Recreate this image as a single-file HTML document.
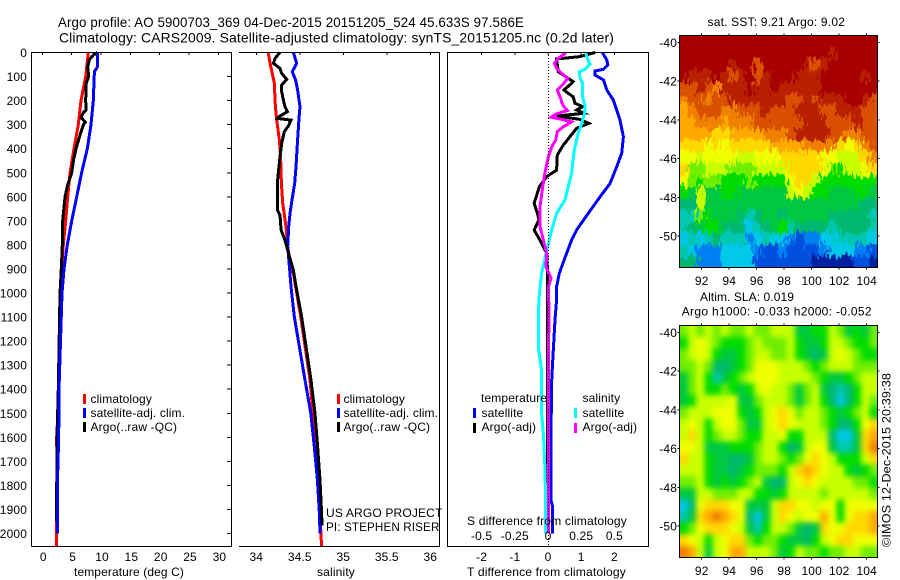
<!DOCTYPE html>
<html lang="en">
<head>
<meta charset="utf-8">
<title>Argo profile</title>
<style>
html,body{margin:0;padding:0;background:#fff;}
svg{display:block;font-family:"Liberation Sans",sans-serif;font-size:12px;fill:#000;letter-spacing:0.13px;}
.ax{stroke:#000;stroke-width:1;fill:none;shape-rendering:crispEdges;}
.pl{fill:none;stroke-width:3;stroke-linejoin:miter;shape-rendering:crispEdges;}
</style>
</head>
<body>
<svg id="chart" xmlns="http://www.w3.org/2000/svg" width="900" height="580" viewBox="0 0 900 580">
  <defs>
    <filter id="jag" filterUnits="userSpaceOnUse" x="660" y="15" width="240" height="275" color-interpolation-filters="sRGB">
      <feTurbulence type="fractalNoise" baseFrequency="0.33 0.11" numOctaves="2" seed="4" result="n"/>
      <feDisplacementMap in="SourceGraphic" in2="n" scale="18" xChannelSelector="R" yChannelSelector="G"/>
    </filter>
    <filter id="soft" filterUnits="userSpaceOnUse" x="660" y="305" width="240" height="275" color-interpolation-filters="sRGB">
      <feGaussianBlur stdDeviation="3"/>
    </filter>
    <clipPath id="clipA"><rect x="679.5" y="35.5" width="198" height="232"/></clipPath>
    <clipPath id="clipB"><rect x="679.5" y="325.5" width="198" height="232"/></clipPath>
  </defs>

  <text x="58" y="27" font-size="14" textLength="466" lengthAdjust="spacingAndGlyphs">Argo profile: AO 5900703_369 04-Dec-2015 20151205_524 45.633S 97.586E</text>
  <text x="59" y="42.5" font-size="14" textLength="555" lengthAdjust="spacingAndGlyphs">Climatology: CARS2009. Satellite-adjusted climatology: synTS_20151205.nc (0.2d later)</text>

  <g id="series"></g>

  <g>
    <path class="ax" d="M31.5 546.5V52.5H231.5V546.5H31.5"/>
  </g>
  <g>
    <path class="ax" d="M239 52.5H439.5V546.5H239"/>
  </g>
  <g>
    <path class="ax" d="M447.5 52.5H648.5V546.5H447.5Z"/>
  </g>
  <line x1="548.5" y1="52" x2="548.5" y2="546" stroke="#000" stroke-width="1" stroke-dasharray="1 2" shape-rendering="crispEdges"/>

  <g id="ticks"></g>

  <text x="74" y="576" textLength="110" lengthAdjust="spacingAndGlyphs">temperature (deg C)</text>
  <text x="317" y="576" textLength="38" lengthAdjust="spacingAndGlyphs">salinity</text>
  <text x="467" y="525" textLength="160" lengthAdjust="spacingAndGlyphs">S difference from climatology</text>
  <text x="467" y="576" textLength="159" lengthAdjust="spacingAndGlyphs">T difference from climatology</text>

  <g>
    <rect x="83" y="394" width="3" height="10" fill="#ff0000"/>
    <rect x="83" y="408" width="3" height="10" fill="#0000ff"/>
    <rect x="83" y="422" width="3" height="10" fill="#000"/>
    <text x="90.5" y="403">climatology</text>
    <text x="90.5" y="417">satellite-adj. clim.</text>
    <text x="90.5" y="431">Argo(..raw -QC)</text>
  </g>
  <g>
    <rect x="337" y="394" width="3" height="10" fill="#ff0000"/>
    <rect x="337" y="408" width="3" height="10" fill="#0000ff"/>
    <rect x="337" y="422" width="3" height="10" fill="#000"/>
    <text x="343.5" y="403">climatology</text>
    <text x="343.5" y="417">satellite-adj. clim.</text>
    <text x="343.5" y="431">Argo(..raw -QC)</text>
  </g>
  <text x="326" y="517" textLength="116.5" lengthAdjust="spacingAndGlyphs">US ARGO PROJECT</text>
  <text x="326" y="531" textLength="113.5" lengthAdjust="spacingAndGlyphs">PI: STEPHEN RISER</text>
  <g>
    <text x="481" y="402">temperature</text>
    <rect x="473" y="408" width="3" height="10" fill="#0000ff"/>
    <rect x="473" y="423" width="3" height="10" fill="#000"/>
    <text x="481.5" y="417">satellite</text>
    <text x="481.5" y="431">Argo(-adj)</text>
    <text x="582.5" y="402">salinity</text>
    <rect x="574" y="408" width="3" height="10" fill="#00ffff"/>
    <rect x="574" y="423" width="3" height="10" fill="#ff00ff"/>
    <text x="582.5" y="417">satellite</text>
    <text x="582.5" y="431">Argo(-adj)</text>
  </g>

  <text x="707.5" y="26" textLength="137.5" lengthAdjust="spacing">sat. SST: 9.21 Argo: 9.02</text>
  <text x="700" y="301" textLength="94" lengthAdjust="spacing">Altim. SLA: 0.019</text>
  <text x="681.7" y="315.5" textLength="190" lengthAdjust="spacing">Argo h1000: -0.033 h2000: -0.052</text>

  <g clip-path="url(#clipA)"><g id="sstCells" filter="url(#jag)" shape-rendering="crispEdges"></g></g>
  <g clip-path="url(#clipB)"><g id="slaCells" filter="url(#soft)" shape-rendering="crispEdges"></g></g>
  <rect class="ax" x="679.5" y="35.5" width="198" height="232"/>
  <rect class="ax" x="679.5" y="325.5" width="198" height="232"/>
  <g id="mapTicks"></g>

  <text transform="translate(890.5 547) rotate(-90)" textLength="174" lengthAdjust="spacingAndGlyphs">©IMOS 12-Dec-2015 20:39:38</text>
</svg>

<script>
// ---------- tick labels ----------
const depthTicks = [0,100,200,300,400,500,600,700,800,900,1000,1100,1200,1300,1400,1500,1600,1700,1800,1900,2000];
const tempTicks = [0,5,10,15,20,25,30];
const salTicks = [34,34.5,35,35.5,36];
const dTempTicks = [-2,-1,0,1,2];
const dSalTicks = [-0.5,-0.25,0,0.25,0.5];
const lonTicks = [92,94,96,98,100,102,104];
const latTicks = [-40,-42,-44,-46,-48,-50];

// ---------- temperature panel ----------
const climTempDepth = [0,100,200,300,400,500,600,700,800,900,1000,1400,1600,1800,2000,2054];
const climTemp = [7.84,7.39,6.6,6.14,5.4,4.72,4.32,3.98,3.58,3.3,3.13,2.85,2.45,2.5,2.4,2.4];
const satTempDepth = [0,60,80,200,300,400,500,600,700,800,900,1000,1400,1600,1800,2000];
const satTemp = [9.43,9.4,8.87,8.69,8.3,7.67,6.7,5.86,5.0,4.26,3.7,3.36,2.85,2.8,2.56,2.56];
const argoTempDepth = [0,10,30,60,100,130,200,240,250,270,290,300,330,400,450,500,550,600,700,800,900,1000,1400,1600,1750,1850,1950];
const argoTemp = [9.4,8.7,8.0,7.73,7.9,7.44,7.39,7.44,7.0,6.6,7.33,7.0,6.6,5.74,5.3,5.0,4.32,3.87,3.47,3.4,3.24,3.02,2.73,2.5,2.48,2.42,2.42];

// ---------- salinity panel ----------
const climSalDepth = [0,45,87,128,225,280,364,447,544,627,724,807,863,918,1001,1098,1362,1700,2054];
const climSal = [34.138,34.158,34.184,34.207,34.219,34.234,34.265,34.28,34.288,34.303,34.341,34.361,34.387,34.426,34.464,34.51,34.617,34.7,34.751];
const satSalDepth = [0,45,80,114,156,225,274,364,475,544,613,669,724,807,890,974,1098,1362,1500,1638,1777,1916,2000];
const satSal = [34.426,34.464,34.414,34.452,34.475,34.502,34.491,34.475,34.456,34.441,34.41,34.387,34.372,34.361,34.38,34.399,34.437,34.56,34.626,34.667,34.702,34.725,34.732];
const argoSalDepth = [0,24,45,66,87,112,135,163,198,225,246,264,274,281,306,329,378,433,502,544,655,676,738,780,835,904,974,1098,1362,1500,1638,1777,1916,1966];
const argoSal = [34.272,34.215,34.196,34.272,34.292,34.349,34.292,34.292,34.311,34.33,34.357,34.272,34.242,34.399,34.368,34.322,34.292,34.272,34.253,34.242,34.242,34.272,34.285,34.33,34.37,34.425,34.457,34.521,34.629,34.675,34.705,34.732,34.751,34.755];

// ---------- difference panel ----------
const dTempSatDepth = [0,31,52,70,77,94,114,156,198,239,281,350,419,475,544,600,669,738,780,835,918,974,1029,1112,1237,1362,1584,1861,1888,2000];
const dTempSat = [1.64,1.77,1.8,1.67,1.42,1.42,1.67,1.77,1.97,2.07,2.17,2.27,2.22,2.07,1.87,1.57,1.21,0.86,0.71,0.56,0.34,0.26,0.26,0.21,0.16,0.11,0.09,0.09,0.14,0.13];
const dTempArgoDepth = [0,17,27,80,94,121,128,156,170,184,211,225,239,253,264,278,295,315,350,385,426,489,516,558,627,669,696,738,780,835,891,1154,1600,1950];
const dTempArgo = [1.42,0.96,0.26,0.31,0.46,0.76,0.71,0.48,0.61,0.76,0.81,1.04,0.86,1.08,0.26,0.96,1.23,0.86,0.66,0.46,0.28,0.26,-0.04,-0.26,-0.42,-0.32,-0.27,-0.42,-0.24,-0.04,-0.02,-0.01,-0.02,0.0];
const dSalSatDepth = [0,24,48,70,80,107,128,184,225,246,295,336,405,502,558,613,669,738,835,918,1001,1098,1237,1320,1500,1584,1723,1861,2000];
const dSalSat = [0.284,0.296,0.316,0.279,0.236,0.241,0.261,0.261,0.279,0.279,0.254,0.228,0.198,0.178,0.153,0.128,0.065,0.028,-0.015,-0.048,-0.065,-0.073,-0.07,-0.048,-0.048,-0.035,-0.023,-0.018,-0.018];
const dSalArgoDepth = [0,24,45,66,87,107,128,156,191,218,241,255,269,278,288,309,329,364,392,433,502,558,641,724,780,835,891,939,974,1098,1237,1584,2000];
const dSalArgo = [0.136,0.078,0.048,0.065,0.103,0.148,0.12,0.07,0.095,0.11,0.146,0.065,0.023,0.103,0.178,0.115,0.07,0.058,0.028,0.003,-0.023,-0.04,-0.06,-0.06,-0.035,-0.01,-0.015,0.023,0.003,0.008,0.003,0.003,0.003];

// ---------- map colour levels ----------
const mapPalette = ['#0020a0','#0050e0','#0080f0','#00c8e8','#00c8b0','#00b870','#00c840','#00dc00','#70ee00','#c8ff00','#f0ff00','#ffd800','#ffa800','#f08000','#d85000','#b82000','#a80000'];
const sstLevels = [
[16,16,16,16,16,16,16,16,16,16,16,16,16,16,16,16,16,16,16,16,16,16,16,16],
[16,16,16,16,16,16,16,16,16,16,16,16,16,16,16,16,16,16,15,16,16,16,16,16],
[16,16,16,16,16,16,15,16,16,14,16,16,16,16,16,15,14,15,16,16,16,16,16,16],
[16,15,15,15,16,15,14,15,16,14,15,16,16,16,15,15,15,16,16,16,16,16,15,16],
[14,14,15,14,13,15,15,15,16,15,15,16,15,15,15,15,15,16,16,16,16,16,16,16],
[13,14,14,13,14,14,15,15,15,15,15,15,15,14,14,15,14,15,15,15,16,16,15,14],
[12,13,14,14,14,13,13,14,14,14,15,14,14,14,15,15,15,14,14,15,15,15,14,14],
[12,12,13,13,13,12,13,13,13,14,14,14,14,14,14,15,15,15,14,14,14,15,14,14],
[12,12,12,12,11,11,12,12,12,12,13,13,13,14,15,15,15,15,14,14,13,13,14,14],
[11,11,11,10,11,10,11,11,11,11,11,12,12,12,12,13,13,13,13,11,10,11,13,14],
[10,10,9,10,10,10,10,9,9,10,10,10,11,11,11,11,11,10,10,9,9,9,11,13],
[11,8,8,9,9,9,8,8,8,9,9,9,9,11,11,11,11,10,8,7,9,9,10,11],
[10,8,7,8,8,7,7,7,8,7,7,7,7,10,11,11,9,7,7,7,7,7,7,7],
[7,6,9,6,6,7,7,6,6,6,6,6,6,9,10,9,7,7,6,6,6,7,7,6],
[5,5,9,6,6,6,6,6,6,6,6,6,6,6,6,6,6,6,6,6,6,6,5,5],
[4,4,8,7,6,6,6,5,4,5,6,6,5,6,6,6,6,6,5,5,5,5,5,4],
[4,5,6,7,7,5,5,5,3,4,5,6,7,4,5,5,5,5,4,5,5,5,5,4],
[3,4,3,4,5,4,4,4,2,3,4,3,3,2,1,2,2,3,3,4,4,4,4,3],
[4,3,2,2,2,3,3,3,3,2,1,1,2,1,1,1,1,2,3,3,3,2,2,1],
[5,5,2,2,2,3,3,3,3,1,1,1,1,1,1,1,0,0,0,0,0,1,1,0]
];
const slaLevels = [
[8,9,8,9,8,9,8,8,9,8,8,9,9,9,6,6,7,7,9,8,6,7,6,8],
[7,9,10,9,8,7,7,7,8,9,8,8,8,9,7,6,6,7,9,9,8,7,7,8],
[8,9,10,9,7,6,6,7,8,9,9,8,8,9,7,6,5,6,9,10,9,8,7,7],
[8,8,9,8,5,5,6,7,8,10,10,10,9,9,9,8,7,8,9,9,9,8,8,8],
[6,8,9,7,4,6,7,8,9,10,10,10,9,9,9,9,8,7,6,6,7,8,9,9],
[6,8,9,7,7,8,7,6,7,9,10,9,9,8,6,8,9,6,5,4,5,7,9,9],
[6,7,9,9,9,9,10,6,6,8,9,9,9,8,6,8,9,7,5,3,5,7,9,8],
[8,9,9,9,10,10,10,7,6,7,9,10,11,10,8,9,9,8,7,6,7,8,9,7],
[9,10,9,7,9,10,10,8,6,6,9,10,11,10,9,9,9,8,7,5,5,7,10,11],
[9,11,9,7,8,9,9,8,7,7,9,9,10,7,7,9,9,9,5,3,3,6,11,12],
[10,10,9,6,6,6,7,7,7,8,9,9,7,5,6,9,10,10,6,4,4,6,11,13],
[11,9,9,7,6,6,5,5,6,8,9,9,8,7,8,10,11,10,9,7,7,7,9,11],
[9,9,9,7,6,6,5,6,7,8,8,8,7,9,11,12,11,10,9,9,7,6,7,8],
[8,8,9,7,6,7,6,7,8,9,6,5,5,9,10,11,10,9,9,9,9,8,8,7],
[6,6,9,9,8,8,8,9,9,7,7,6,7,9,9,9,9,8,9,9,9,9,9,8],
[3,5,10,11,11,11,10,10,6,6,6,9,11,11,10,10,9,10,10,7,10,10,10,10],
[4,6,11,12,13,12,11,10,5,3,6,9,11,10,9,10,10,12,10,7,10,11,11,12],
[7,8,10,11,11,11,10,9,6,4,7,9,9,8,6,5,6,11,10,10,11,11,11,12],
[11,10,9,7,9,10,11,11,8,7,8,8,7,6,6,5,7,9,10,11,11,10,10,10],
[13,12,9,6,9,10,12,12,9,9,9,8,6,7,9,8,8,7,8,8,9,9,8,8]
];

// ---------- axis functions ----------
const NS = 'http://www.w3.org/2000/svg';
const yScale = d => 52.5 + 0.2405 * d;
const tempX = t => 42.3 + 5.87 * t;
const salX = s => 256.3 + 87 * (s - 34);
const dTempX = v => 548 + 33.2 * v;
const dSalX = v => 548 + 132.8 * v;
const lonX = lon => 701.7 + 13.75 * (lon - 92);
const latY = (lat, off) => 42.3 + 19.37 * (-40 - lat) + off;

function make(tag, parent) {
  const el = document.createElementNS(NS, tag);
  parent.appendChild(el);
  return el;
}
function seg(parent, x1, y1, x2, y2) {
  const l = make('line', parent);
  l.setAttribute('x1', x1); l.setAttribute('y1', y1);
  l.setAttribute('x2', x2); l.setAttribute('y2', y2);
  l.setAttribute('class', 'ax');
  return l;
}
function label(parent, x, y, txt, anchor) {
  const t = make('text', parent);
  t.setAttribute('x', x); t.setAttribute('y', y);
  t.setAttribute('text-anchor', anchor);
  t.textContent = txt;
  return t;
}
function profile(depths, values, xFn, colour) {
  const p = make('polyline', document.getElementById('series'));
  p.setAttribute('class', 'pl');
  p.setAttribute('stroke', colour);
  p.setAttribute('points', depths.map((d, i) => xFn(values[i]).toFixed(1) + ',' + yScale(d).toFixed(1)).join(' '));
  return p;
}

// ---------- series ----------
const s1 = profile(climTempDepth, climTemp, tempX, '#ff0000');


const s2 = profile(argoTempDepth, argoTemp, tempX, '#000000');


const s3 = profile(satTempDepth, satTemp, tempX, '#0000ff');


const s4 = profile(climSalDepth, climSal, salX, '#ff0000');


const s5 = profile(satSalDepth, satSal, salX, '#0000ff');


const s6 = profile(argoSalDepth, argoSal, salX, '#000000');


const s7 = profile(dTempSatDepth, dTempSat, dTempX, '#0000ff');


const s8 = profile(dTempArgoDepth, dTempArgo, dTempX, '#000000');


const s9 = profile(dSalSatDepth, dSalSat, dSalX, '#00ffff');


const s10 = profile(dSalArgoDepth, dSalArgo, dSalX, '#ff00ff');



// ---------- ticks ----------
const tickG = document.getElementById('ticks');
depthTicks.forEach(d => {
  const mark = seg(tickG, 227, yScale(d), 231, yScale(d));
  
  
  const txt = label(tickG, 27, yScale(d) + 4.5, String(d), 'end');
  
  
});
tempTicks.forEach(v => {
  const mark = seg(tickG, tempX(v), 52, tempX(v), 55);
  
  
  const txt = label(tickG, tempX(v) + 1, 561, String(v), 'middle');
  
  
});
salTicks.forEach(v => {
  const mark = seg(tickG, salX(v), 52, salX(v), 55);
  
  
  const txt = label(tickG, salX(v), 561, String(v), 'middle');
  
  
});
dTempTicks.forEach(v => {
  const mark = seg(tickG, dTempX(v), 52, dTempX(v), 55);
  
  
  const txt = label(tickG, dTempX(v), 561, String(v), 'middle');
  
  
});
dSalTicks.forEach(v => {
  const txt = label(tickG, dSalX(v), 540, String(v), 'middle');
  
  
});

// ---------- maps ----------
function cells(levels, groupId, top) {
  const g = document.getElementById(groupId);
  const rows = levels.length, cols = levels[0].length;
  const w = 198 / cols, h = 232 / rows;
  levels.forEach((row, r) => row.forEach((v, c) => {
    const x0 = 679.5 + c * w, y0 = top + r * h;
    const ext = (c === 0 ? 14 : 0), extR = (c === cols - 1 ? 14 : 0);
    const extT = (r === 0 ? 14 : 0), extB = (r === rows - 1 ? 14 : 0);
    const cell = make('rect', g);
    cell.setAttribute('x', x0 - ext);
    cell.setAttribute('y', y0 - extT);
    cell.setAttribute('width', w + ext + extR + 0.5);
    cell.setAttribute('height', h + extT + extB + 0.5);
    cell.setAttribute('fill', mapPalette[v]);
    
    
  }));
}
cells(sstLevels, 'sstCells', 35.5);
cells(slaLevels, 'slaCells', 325.5);

const mapTickG = document.getElementById('mapTicks');
[0, 290].forEach(off => {
  const top = 35.5 + off, bottom = 267.5 + off;
  lonTicks.forEach(lon => {
    const a = seg(mapTickG, lonX(lon), top - 2, lonX(lon), top);
    
    
    const b = seg(mapTickG, lonX(lon), bottom, lonX(lon), bottom + 2);
    
    
    const txt = label(mapTickG, lonX(lon), 285 + off, String(lon), 'middle');
    
    
  });
  latTicks.forEach(lat => {
    const a = seg(mapTickG, 677.5, latY(lat, off), 679.5, latY(lat, off));
    
    
    const b = seg(mapTickG, 877.5, latY(lat, off), 879.5, latY(lat, off));
    
    
    const txt = label(mapTickG, 677, latY(lat, off) + 4.5, String(lat), 'end');
    
    
  });
});
</script>
</body>
</html>
